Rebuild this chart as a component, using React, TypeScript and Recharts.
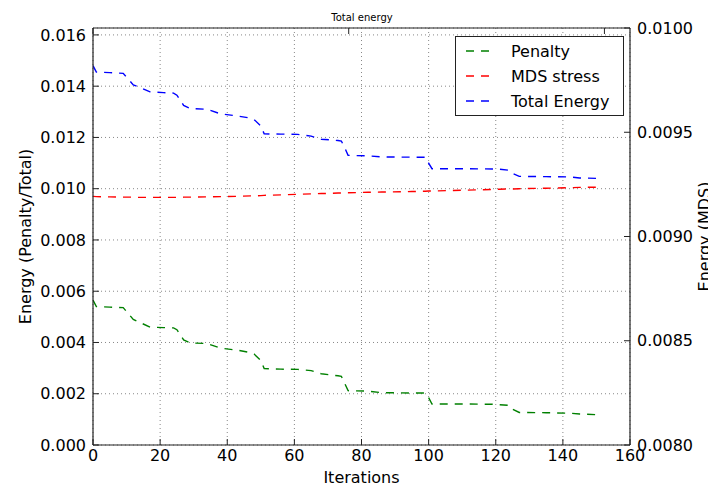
import { LineChart, Line, XAxis, YAxis, CartesianGrid } from "recharts";

const ITERATIONS = [0, 1, 5, 9, 12, 14, 17, 21, 24, 25, 27, 29, 34, 38, 43, 47, 48, 50, 51, 56, 61, 65, 68, 73, 74, 75, 76, 82, 86, 95, 99, 100, 101, 110, 119, 121, 124, 125, 127, 135, 142, 145, 151];

const PENALTY = [0.00565, 0.0054, 0.00538, 0.00536, 0.0049, 0.00478, 0.0046, 0.00458, 0.00457, 0.0045, 0.0041, 0.00398, 0.00396, 0.00378, 0.0037, 0.0036, 0.00355, 0.0033, 0.00298, 0.00296, 0.00295, 0.0029, 0.00278, 0.0027, 0.00268, 0.0024, 0.00212, 0.0021, 0.00204, 0.00203, 0.00203, 0.00185, 0.0016, 0.0016, 0.00159, 0.00157, 0.00155, 0.0014, 0.00127, 0.00126, 0.00124, 0.00121, 0.00118];

const MDS_STRESS = [0.0097, 0.00969, 0.00968, 0.00967, 0.00967, 0.00966, 0.00966, 0.00966, 0.00966, 0.00966, 0.00967, 0.00967, 0.00968, 0.00969, 0.0097, 0.00972, 0.00972, 0.00973, 0.00974, 0.00976, 0.00978, 0.0098, 0.00981, 0.00983, 0.00983, 0.00984, 0.00984, 0.00986, 0.00987, 0.00989, 0.0099, 0.00991, 0.00991, 0.00994, 0.00997, 0.00998, 0.00999, 0.00999, 0.01, 0.01002, 0.01004, 0.01005, 0.01006];

const TOTAL = [0.0148, 0.01455, 0.01453, 0.0145, 0.01405, 0.01395, 0.01378, 0.01375, 0.01373, 0.01365, 0.01325, 0.01313, 0.0131, 0.01292, 0.01284, 0.01275, 0.0127, 0.01245, 0.01214, 0.01213, 0.01212, 0.01205, 0.01193, 0.01188, 0.01186, 0.0116, 0.0113, 0.01128, 0.01124, 0.01123, 0.01123, 0.011, 0.01078, 0.01078, 0.01077, 0.01076, 0.01072, 0.0106, 0.01048, 0.01047, 0.01046, 0.01042, 0.0104];

const X_TICKS = [0, 20, 40, 60, 80, 100, 120, 140, 160];
const LEFT_TICKS = [0, 0.002, 0.004, 0.006, 0.008, 0.01, 0.012, 0.014, 0.016];
const RIGHT_TICKS = [0.008, 0.0085, 0.009, 0.0095, 0.01];

const SERIES = [
  { key: "penalty", name: "Penalty", color: "#008000" },
  { key: "mds", name: "MDS stress", color: "#ff0000" },
  { key: "total", name: "Total Energy", color: "#0000ff" },
];

const data = ITERATIONS.map((it, i) => ({
  it,
  penalty: PENALTY[i],
  mds: MDS_STRESS[i],
  total: TOTAL[i],
}));

const FONT = "'DejaVu Sans', sans-serif";
const tickStyle = { fill: "#000", fontSize: 16, fontFamily: FONT };
const axisLine = { stroke: "#222", strokeWidth: 1.2 };
const tickLine = { stroke: "#222", strokeWidth: 1 };

export default function App() {
  return (
    <div style={{ margin: -8, width: 716, height: 494, background: "#ededed", position: "relative", overflow: "hidden" }}>
      <div style={{ position: "absolute", left: 8, top: 5, right: 0, bottom: 0, background: "#fff" }} />
      <div style={{ position: "absolute", left: 0, top: 0 }}>
        <LineChart width={716} height={494} data={data} margin={{ top: 0, right: 0, bottom: 0, left: 0 }}>
          <CartesianGrid yAxisId="left" stroke="#888" strokeDasharray="1 3" horizontal vertical />
          <XAxis
            dataKey="it"
            type="number"
            domain={[0, 160]}
            ticks={X_TICKS}
            allowDataOverflow
            height={49}
            tick={tickStyle}
            axisLine={axisLine}
            tickLine={tickLine}
            tickSize={-6}
            tickMargin={11}
            label={{ value: "Iterations", position: "insideBottom", offset: 11, style: { fontSize: 16, fontFamily: FONT, fill: "#000" } }}
          />
          <XAxis
            xAxisId="top"
            orientation="top"
            type="number"
            domain={[0, 160]}
            ticks={X_TICKS}
            allowDataOverflow
            height={28}
            tick={tickStyle}
            tickFormatter={() => ""}
            axisLine={axisLine}
            tickLine={tickLine}
            tickSize={-6}
          />
          <YAxis
            yAxisId="left"
            type="number"
            domain={[0, 0.01627]}
            ticks={LEFT_TICKS}
            allowDataOverflow
            width={93}
            tick={tickStyle}
            tickFormatter={(v: number) => v.toFixed(3)}
            axisLine={axisLine}
            tickLine={tickLine}
            tickSize={-6}
            tickMargin={13}
            label={{ value: "Energy (Penalty/Total)", angle: -90, position: "insideLeft", offset: 25, style: { textAnchor: "middle", fontSize: 16, fontFamily: FONT, fill: "#000" } }}
          />
          <YAxis
            yAxisId="right"
            orientation="right"
            type="number"
            domain={[0.008, 0.01]}
            ticks={RIGHT_TICKS}
            allowDataOverflow
            width={86}
            tick={tickStyle}
            tickFormatter={(v: number) => v.toFixed(4)}
            axisLine={axisLine}
            tickLine={tickLine}
            tickSize={-6}
            tickMargin={13}
            label={{ value: "Energy (MDS)", angle: -90, position: "insideRight", offset: 12, style: { textAnchor: "middle", fontSize: 16, fontFamily: FONT, fill: "#000" } }}
          />
          {SERIES.map((s) => (
            <Line
              key={s.key}
              yAxisId="left"
              type="linear"
              dataKey={s.key}
              name={s.name}
              stroke={s.color}
              strokeWidth={1.4}
              strokeDasharray="8 7"
              dot={false}
              activeDot={false}
              isAnimationActive={false}
            />
          ))}
        </LineChart>
      </div>
      <div
        style={{
          position: "absolute",
          left: 0,
          top: 12,
          width: 724,
          textAlign: "center",
          fontFamily: FONT,
          fontSize: 10,
          color: "#000",
          lineHeight: "12px",
        }}
      >
        Total energy
      </div>
      <div
        style={{
          position: "absolute",
          left: 455,
          top: 36,
          width: 167,
          height: 78,
          border: "1.2px solid #222",
          background: "#fff",
          fontFamily: FONT,
          fontSize: 16,
          color: "#000",
        }}
      >
        {SERIES.map((s, i) => (
          <div key={s.key} style={{ position: "absolute", left: 0, top: 4 + i * 25, height: 20, display: "flex", alignItems: "center" }}>
            <svg width={55} height={20} style={{ display: "block" }}>
              <line x1={10} y1={10} x2={34} y2={10} stroke={s.color} strokeWidth={1.4} strokeDasharray="8 7" />
            </svg>
            <span style={{ whiteSpace: "nowrap" }}>{s.name}</span>
          </div>
        ))}
      </div>
    </div>
  );
}
